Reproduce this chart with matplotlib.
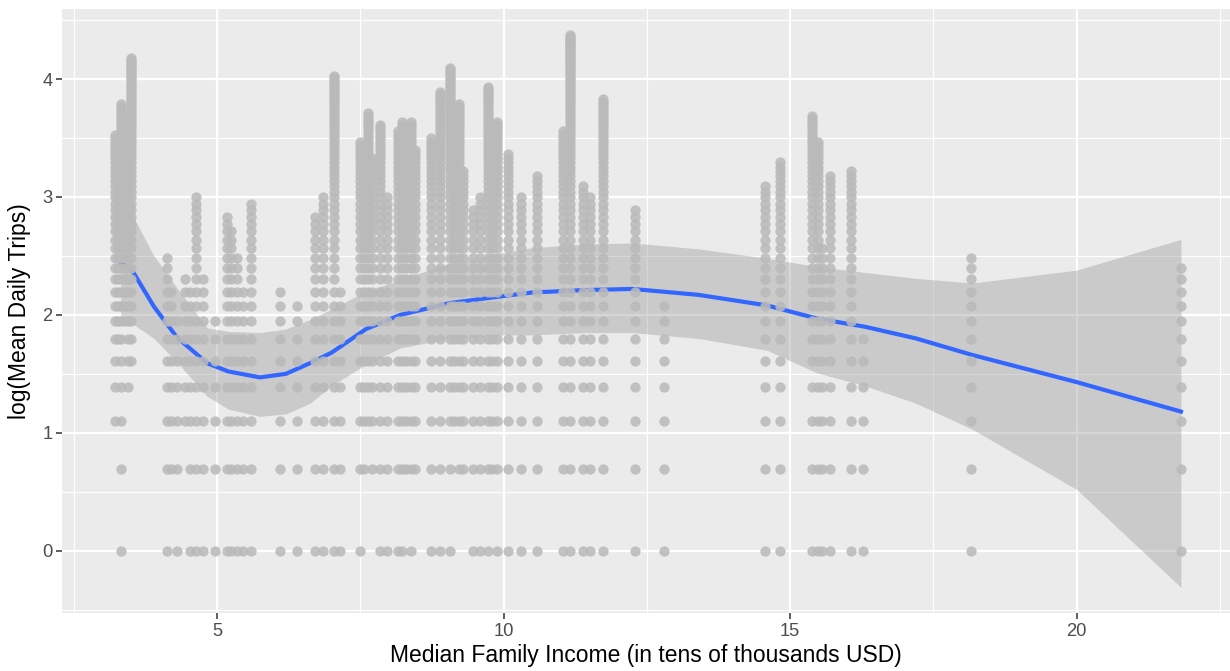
import numpy as np
import matplotlib
matplotlib.use("Agg")
import matplotlib.pyplot as plt
from matplotlib.ticker import MultipleLocator

# one column of points per tract: income, lowest and highest mean daily trips
col_x = [3.22, 3.27, 3.32, 3.40, 3.45, 3.50, 4.12, 4.20, 4.31, 4.45, 4.53, 4.64, 4.76, 4.97,
         5.17, 5.24, 5.34, 5.46, 5.60,
         6.10, 6.39, 6.71, 6.85, 7.04, 7.14, 7.49, 7.56, 7.63, 7.70, 7.84, 7.96, 8.16, 8.22,
         8.30, 8.39, 8.45,
         8.74, 8.89, 9.06, 9.14, 9.22, 9.30, 9.47, 9.59, 9.73, 9.80, 9.88, 10.08, 10.30,
         10.59, 11.03,
         11.16, 11.39, 11.50, 11.74, 12.29, 12.80, 14.56, 14.82, 15.39, 15.48, 15.55,
         15.70, 16.07, 16.28, 18.16, 21.82]
col_kmin = [3, 6, 1, 7, 4, 5, 1, 2, 1, 3, 1, 1, 1, 1,
            1, 1, 1, 1, 1,
            1, 1, 1, 1, 1, 1, 1, 2, 3, 2, 1, 1, 1, 1,
            2, 1, 2,
            1, 1, 1, 3, 2, 2, 1, 1, 1, 2, 1, 1, 1,
            1, 1,
            1, 1, 1, 1, 1, 1, 1, 1, 1, 1, 1,
            1, 1, 1, 1, 1]
col_kmax = [34, 30, 44, 36, 40, 65, 12, 9, 7, 10, 9, 20, 10, 7,
            17, 15, 12, 9, 19,
            9, 8, 17, 20, 56, 9, 32, 30, 41, 28, 37, 20, 35, 38,
            36, 38, 30,
            33, 49, 60, 40, 44, 25, 18, 20, 51, 30, 38, 29, 20,
            24, 35,
            79, 22, 20, 46, 18, 8, 22, 27, 40, 32, 13,
            24, 25, 6, 12, 11]

# loess fit and its confidence band
smooth_x = [3.32, 3.54, 3.9, 4.3, 4.83, 5.2, 5.75, 6.2, 6.62, 7.0, 7.6, 8.2, 9.06, 10.0,
            10.5, 11.4, 12.25, 13.4, 14.6, 15.46, 16.3, 17.2, 18.18, 20.0, 21.82]
smooth_y = [2.44, 2.36, 2.07, 1.81, 1.59, 1.52, 1.47, 1.50, 1.59, 1.68, 1.88, 2.00, 2.10, 2.16,
            2.19, 2.21, 2.22, 2.17, 2.08, 1.97, 1.90, 1.80, 1.66, 1.43, 1.18]
band_hi = [3.00, 2.83, 2.50, 2.23, 1.89, 1.86, 1.85, 1.88, 1.96, 2.05, 2.20, 2.30, 2.44, 2.53,
           2.57, 2.60, 2.61, 2.56, 2.48, 2.41, 2.36, 2.31, 2.27, 2.38, 2.64]
band_lo = [1.95, 1.92, 1.80, 1.60, 1.31, 1.20, 1.14, 1.16, 1.25, 1.40, 1.58, 1.72, 1.80, 1.83,
           1.83, 1.85, 1.85, 1.80, 1.70, 1.51, 1.40, 1.25, 1.03, 0.52, -0.31]

x_ticks = [5, 10, 15, 20]
y_ticks = [0, 1, 2, 3, 4]

plt.rcParams['font.family'] = ['Liberation Sans', 'DejaVu Sans']

pts_x = []
pts_y = []
for x, k0, k1 in zip(col_x, col_kmin, col_kmax):
    trips = np.arange(k0, k1 + 1)
    pts_x.extend([x] * len(trips))
    pts_y.extend(np.log(trips))

fig = plt.figure(figsize=(12.3, 6.71), dpi=100)
ax = fig.add_axes([62 / 1230, 58 / 671, 1168 / 1230, 604 / 671])
ax.set_facecolor('#EBEBEB')

# smooth first, points on top (as in the original)
ax.fill_between(smooth_x, band_lo, band_hi, color='#999999', alpha=0.4, lw=0, zorder=2)
ax.plot(smooth_x, smooth_y, color='#3366FF', lw=3, zorder=3)
ax.scatter(pts_x, pts_y, s=55, color='#bababa', alpha=0.88, lw=0, zorder=4)

ax.set_xlim(2.295, 22.676)
ax.set_ylim(-0.528, 4.594)
ax.set_xticks(x_ticks)
ax.set_yticks(y_ticks)
ax.xaxis.set_minor_locator(MultipleLocator(2.5))
ax.yaxis.set_minor_locator(MultipleLocator(0.5))
ax.grid(which='major', color='white', lw=1.6, zorder=1)
ax.grid(which='minor', color='white', lw=0.8, zorder=1)
ax.set_axisbelow(True)
for s in ax.spines.values():
    s.set_visible(False)

ax.tick_params(which='major', length=4, width=1.1, color='#333333', labelcolor='#4D4D4D',
               labelsize=13.2)
ax.tick_params(axis='x', pad=3.5)
ax.tick_params(axis='y', pad=3)
ax.tick_params(which='minor', length=0)

ax.set_xlabel('Median Family Income (in tens of thousands USD)', fontsize=16.5, color='black')
ax.set_ylabel('log(Mean Daily Trips)', fontsize=16.5, color='black')
ax.xaxis.set_label_coords(0.5, -0.071)
ax.yaxis.set_label_coords(-0.036, 0.5)
ax.xaxis.label.set_va('center')
ax.yaxis.label.set_va('center')

fig.savefig('out.png', dpi=100, facecolor='white')
